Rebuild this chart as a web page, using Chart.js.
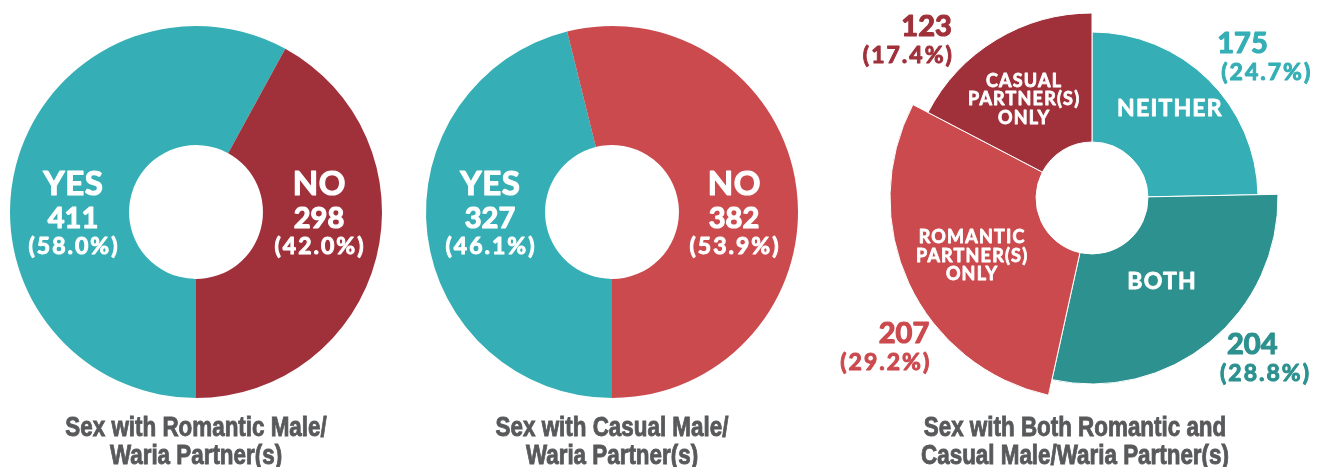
<!DOCTYPE html>
<html>
<head>
<meta charset="utf-8">
<script src="https://cdn.jsdelivr.net/npm/chart.js@4.4.1/dist/chart.umd.min.js"></script>
<style>
  html, body { margin: 0; padding: 0; background: #ffffff; }
  body { width: 1320px; height: 467px; position: relative; overflow: hidden; }
  canvas { position: absolute; }
  .title {
    position: absolute; width: 440px; text-align: center; white-space: nowrap;
    font-family: "Liberation Sans", Arial, sans-serif;
    font-weight: bold; font-size: 28px; line-height: 28px; color: #58595b;
    -webkit-text-stroke: 0.9px #58595b;
    transform: scaleX(0.8); transform-origin: 50% 50%;
  }
</style>
</head>
<body>
<canvas id="c1" width="440" height="420" style="left:-24px;top:2px"></canvas>
<canvas id="c2" width="440" height="420" style="left:392px;top:2px"></canvas>
<canvas id="c3" width="540" height="420" style="left:822px;top:-12px"></canvas>
<div class="title" id="t1" style="left:-24px;top:413px"></div>
<div class="title" id="t2" style="left:392px;top:413px"></div>
<div class="title" id="t3" style="left:855px;top:413px"></div>
<script>
// ---------------- data ----------------
const romanticLabels = ['YES', 'NO'];
const romanticValues = [411, 298];
const romanticPercents = [58.0, 42.0];

const casualLabels = ['YES', 'NO'];
const casualValues = [327, 382];
const casualPercents = [46.1, 53.9];

const bothLabels = [['NEITHER'], ['BOTH'], ['ROMANTIC', 'PARTNER(S)', 'ONLY'], ['CASUAL', 'PARTNER(S)', 'ONLY']];
const bothValues = [175, 204, 207, 123];
const bothPercents = [24.7, 28.8, 29.2, 17.4];

const chartTitles = [
  ['Sex with Romantic Male/', 'Waria Partner(s)'],
  ['Sex with Casual Male/', 'Waria Partner(s)'],
  ['Sex with Both Romantic and', 'Casual Male/Waria Partner(s)']
];

// ---------------- styles ----------------
const TEAL = '#35afb5';
const DARK_TEAL = '#2c918f';
const DARK_RED = '#a0313a';
const CORAL = '#cb4a4e';
const FONT = 'Lato, "Open Sans", sans-serif';

function pctText(p) { return '(' + p.toFixed(1) + '%)'; }

function drawText(ctx, text, x, y, size, spacing, align, stroke) {
  ctx.font = 'bold ' + size + 'px ' + FONT;
  ctx.letterSpacing = spacing + 'px';
  ctx.textAlign = align;
  let dx = 0;
  if (align === 'center') dx = spacing / 2;
  else if (align === 'right') dx = spacing;
  ctx.fillText(text, x + dx, y);
  ctx.strokeStyle = ctx.fillStyle;
  ctx.lineWidth = stroke;
  ctx.lineJoin = 'round';
  ctx.strokeText(text, x + dx, y);
}

// per-slice outer radius for the third chart (style)
const varRadius = {
  id: 'varRadius',
  afterDatasetsUpdate(chart, args, o) {
    if (!o.radii) return;
    chart.getDatasetMeta(0).data.forEach((arc, i) => { arc.outerRadius = o.radii[i]; });
  }
};

const ringLabels = {
  id: 'ringLabels',
  afterDatasetsDraw(chart, args, o) {
    const ctx = chart.ctx;
    const meta = chart.getDatasetMeta(0);
    const values = chart.data.datasets[0].data;
    const labels = chart.data.labels;
    const DEG = Math.PI / 180;
    ctx.save();
    ctx.textBaseline = 'alphabetic';
    meta.data.forEach((arc, i) => {
      const p = arc.getProps(['x', 'y', 'startAngle', 'endAngle', 'innerRadius', 'outerRadius'], true);
      const mid = (p.startAngle + p.endAngle) / 2;
      if (o.mode === 'side') {
        const x = p.x + (Math.cos(mid) >= 0 ? 1 : -1) * o.sideR;
        ctx.fillStyle = '#ffffff';
        drawText(ctx, labels[i], x, p.y - 17, 33, 0.5, 'center', 1.2);
        drawText(ctx, String(values[i]), x, p.y + 16, 29, 0, 'center', 1.2);
        drawText(ctx, pctText(o.percents[i]), x, p.y + 42, 23, 2.0, 'center', 1.0);
      } else {
        // inner category label
        const lines = labels[i];
        const inn = o.inner[i];
        const r = p.innerRadius + inn.frac * (p.outerRadius - p.innerRadius);
        const a0 = mid + inn.da * DEG;
        const cx = p.x + r * Math.cos(a0);
        const cy = p.y + r * Math.sin(a0);
        const multi = lines.length > 1;
        const fs = multi ? 18 : 23;
        const lh = multi ? 18.5 : 0;
        ctx.fillStyle = '#ffffff';
        const first = cy - (lines.length - 1) * lh / 2 + fs * 0.36;
        lines.forEach((t, k) => drawText(ctx, t, cx, first + k * lh, fs, 1.2, 'center', 0.8));
        // outer value label
        const off = o.outer[i];
        const a = mid + off.da * DEG;
        const R = p.outerRadius + off.dr;
        const ax = p.x + R * Math.cos(a);
        const ay = p.y + R * Math.sin(a);
        ctx.fillStyle = o.outerColors[i];
        drawText(ctx, String(values[i]), ax, ay, 29, 0, off.align, 1.2);
        drawText(ctx, pctText(o.percents[i]), ax + off.pdx, ay + 27, 23, 2.0, off.align, 1.0);
      }
    });
    ctx.restore();
  }
};

function makeChart(id, labels, values, colors, border, extra) {
  return new Chart(document.getElementById(id), {
    type: 'doughnut',
    data: {
      labels: labels,
      datasets: [{
        data: values,
        backgroundColor: colors,
        borderColor: '#ffffff',
        borderWidth: border
      }]
    },
    options: Object.assign({
      responsive: false,
      animation: false,
      events: [],
      layout: { padding: 0 }
    }, extra),
    plugins: [varRadius, ringLabels]
  });
}

makeChart('c1', romanticLabels, romanticValues, [TEAL, DARK_RED], 0, {
  rotation: 180, radius: 186, cutout: '36%',
  plugins: { legend: { display: false }, tooltip: { enabled: false },
    ringLabels: { mode: 'side', sideR: 123, percents: romanticPercents } }
});

makeChart('c2', casualLabels, casualValues, [TEAL, CORAL], 0, {
  rotation: 180, radius: 186, cutout: '36%',
  plugins: { legend: { display: false }, tooltip: { enabled: false },
    ringLabels: { mode: 'side', sideR: 122, percents: casualPercents } }
});

makeChart('c3', bothLabels, bothValues, [TEAL, DARK_TEAL, CORAL, DARK_RED], 1, {
  rotation: 0, radius: 202, cutout: '27.7%',
  plugins: { legend: { display: false }, tooltip: { enabled: false },
    varRadius: { radii: [166, 186, 202, 185] },
    ringLabels: {
      mode: 'inner', percents: bothPercents,
      inner: [
        { frac: 0.57, da: -3.8 },
        { frac: 0.40, da: -0.7 },
        { frac: 0.53, da: -0.4 },
        { frac: 0.50, da: -3.4 }
      ],
      outerColors: [TEAL, DARK_TEAL, CORAL, DARK_RED],
      outer: [
        { da: -3.7, dr: 26, align: 'left', pdx: 4 },
        { da: -1.6, dr: 20, align: 'left', pdx: -7 },
        { da: -16.7, dr: 16, align: 'right', pdx: 0 },
        { da: -9.7, dr: 29, align: 'right', pdx: 0 }
      ]
    } }
});

chartTitles.forEach((lines, i) => {
  const el = document.getElementById('t' + (i + 1));
  lines.forEach((t, k) => {
    if (k) el.appendChild(document.createElement('br'));
    el.appendChild(document.createTextNode(t));
  });
});
</script>
</body>
</html>
